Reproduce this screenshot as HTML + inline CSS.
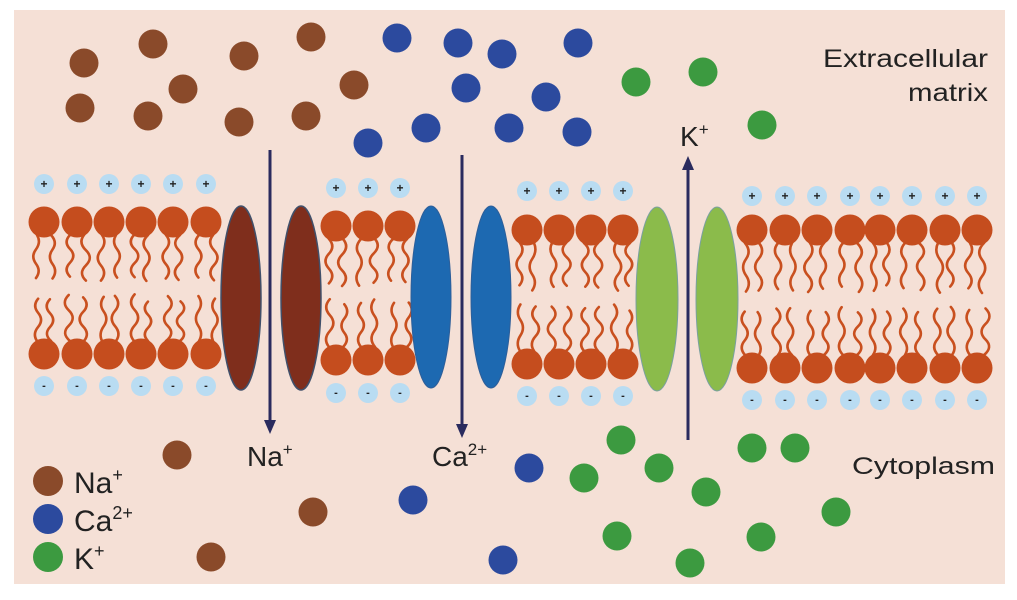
<!DOCTYPE html>
<html><head><meta charset="utf-8">
<style>
html,body{margin:0;padding:0;background:#fff;}
svg{display:block;}
text{font-family:"Liberation Sans",Arial,sans-serif;fill:#222;}
</style></head>
<body>
<svg id="s" width="1017" height="600" viewBox="0 0 1017 600" xmlns="http://www.w3.org/2000/svg">
<rect x="0" y="0" width="1017" height="600" fill="#fff"/>
<rect x="14" y="10" width="991" height="574" fill="#f5e0d6"/>
<g id="tails" stroke="#c9501f" stroke-width="2.6" fill="none" stroke-linecap="round"></g>
<g id="heads" fill="#c54d1e"></g>
<g id="charges"></g>
<g stroke="#41506a" stroke-width="1.5">
<ellipse cx="241" cy="298" rx="20" ry="92" fill="#7f2e1c"/>
<ellipse cx="301" cy="298" rx="20" ry="92" fill="#7f2e1c"/>
</g>
<g stroke="#2d5f9a" stroke-width="1">
<ellipse cx="431" cy="297" rx="20" ry="91" fill="#1d69b1"/>
<ellipse cx="491" cy="297" rx="20" ry="91" fill="#1d69b1"/>
</g>
<g stroke="#7aa0a0" stroke-width="1">
<ellipse cx="657" cy="299" rx="21" ry="92" fill="#8bbb4b"/>
<ellipse cx="717" cy="299" rx="21" ry="92" fill="#8bbb4b"/>
</g>
<g stroke="#2a2b5e" stroke-width="3" fill="#2a2b5e">
<line x1="270" y1="150" x2="270" y2="422"/>
<polygon points="264,420 276,420 270,434" stroke="none"/>
<line x1="462" y1="155" x2="462" y2="426"/>
<polygon points="456,424 468,424 462,438" stroke="none"/>
<line x1="688" y1="440" x2="688" y2="168"/>
<polygon points="682,170 694,170 688,156" stroke="none"/>
</g>
<g id="ions"></g>
<text x="247" y="466" font-size="28">Na<tspan font-size="17" dy="-11">+</tspan></text>
<text x="432" y="466" font-size="28">Ca<tspan font-size="17" dy="-11">2+</tspan></text>
<text x="680" y="146" font-size="28">K<tspan font-size="17" dy="-11">+</tspan></text>
<text x="823" y="67" font-size="25" textLength="165" lengthAdjust="spacingAndGlyphs">Extracellular</text>
<text x="908" y="101" font-size="25" textLength="80" lengthAdjust="spacingAndGlyphs">matrix</text>
<text x="852" y="474" font-size="24" textLength="143" lengthAdjust="spacingAndGlyphs">Cytoplasm</text>
<circle cx="48" cy="481" r="15" fill="#8a4a2a"/>
<circle cx="48" cy="519" r="15" fill="#2c4a9e"/>
<circle cx="48" cy="557" r="15" fill="#3c9a40"/>
<text x="74" y="493" font-size="30">Na<tspan font-size="18" dy="-12">+</tspan></text>
<text x="74" y="531" font-size="30">Ca<tspan font-size="18" dy="-12">2+</tspan></text>
<text x="74" y="569" font-size="30">K<tspan font-size="18" dy="-12">+</tspan></text>
</svg>
<script>
var NS="http://www.w3.org/2000/svg";
function el(p,t,a){var e=document.createElementNS(NS,t);for(var k in a)e.setAttribute(k,a[k]);p.appendChild(e);return e;}
var heads=document.getElementById('heads'),tails=document.getElementById('tails'),ch=document.getElementById('charges'),ions=document.getElementById('ions');
var segs=[
 {xs:[44,77,109,141,173,206],t:222,b:354,p:184,m:386},
 {xs:[336,368,400],t:226,b:360,p:188,m:393},
 {xs:[527,559,591,623],t:230,b:364,p:191,m:396},
 {xs:[752,785,817,850,880,912,945,977],t:230,b:368,p:196,m:400}
];
var seed=7;function rnd(){seed=(seed*9301+49297)%233280;return seed/233280;}
function wave(x,y0,dir,len){
  var d="M"+x+" "+y0, y=y0, a=(rnd()>0.5?1:-1)*(5+rnd()*3), n=3, st=len/n;
  var cx=x+(rnd()-0.5)*4;
  for(var i=0;i<n;i++){var y1=y+dir*st;d+=" Q"+(cx+a)+" "+(y+dir*st/2)+" "+cx+" "+y1;y=y1;a=-a;}
  el(tails,'path',{d:d});
}
segs.forEach(function(s){
  var mid=(s.t+s.b)/2;
  s.xs.forEach(function(x){
    wave(x-7,s.t+13,1,mid-6-(s.t+13)-rnd()*8);
    wave(x+7,s.t+13,1,mid-6-(s.t+13)-rnd()*8);
    wave(x-7,s.b-13,-1,(s.b-13)-(mid+6)-rnd()*8);
    wave(x+7,s.b-13,-1,(s.b-13)-(mid+6)-rnd()*8);
    el(heads,'circle',{cx:x,cy:s.t,r:15.5});
    el(heads,'circle',{cx:x,cy:s.b,r:15.5});
    el(ch,'circle',{cx:x,cy:s.p,r:10,fill:'#b9dcf2'});
    var t=el(ch,'text',{x:x,y:s.p+4,'font-size':12,'text-anchor':'middle','font-weight':'bold'});t.textContent='+';t.setAttribute('fill','#223');
    el(ch,'circle',{cx:x,cy:s.m,r:10,fill:'#b9dcf2'});
    var u=el(ch,'text',{x:x,y:s.m+3,'font-size':11,'text-anchor':'middle','font-weight':'bold'});u.textContent='-';u.setAttribute('fill','#445');
  });
});
var br=[[84,63],[153,44],[244,56],[311,37],[80,108],[183,89],[148,116],[239,122],[306,116],[354,85],[177,455],[313,512],[211,557]];
var bl=[[397,38],[458,43],[502,54],[578,43],[466,88],[546,97],[368,143],[426,128],[509,128],[577,132],[529,468],[413,500],[503,560]];
var gr=[[636,82],[703,72],[762,125],[621,440],[659,468],[584,478],[706,492],[752,448],[795,448],[836,512],[617,536],[761,537],[690,563]];
br.forEach(function(p){el(ions,'circle',{cx:p[0],cy:p[1],r:14.5,fill:'#8a4a2a'});});
bl.forEach(function(p){el(ions,'circle',{cx:p[0],cy:p[1],r:14.5,fill:'#2c4a9e'});});
gr.forEach(function(p){el(ions,'circle',{cx:p[0],cy:p[1],r:14.5,fill:'#3c9a40'});});
</script>
</body></html>
